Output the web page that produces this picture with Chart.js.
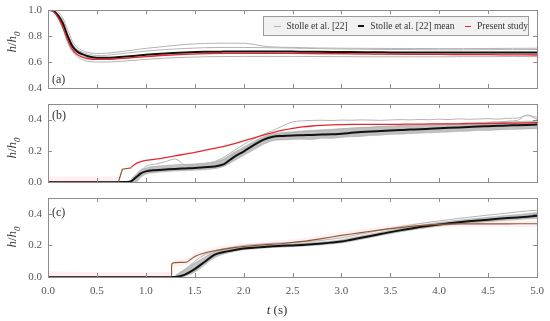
<!DOCTYPE html>
<html>
<head>
<meta charset="utf-8">
<script src="https://cdn.jsdelivr.net/npm/chart.js@4"></script>
<style>
  body { margin: 0; background: #fff; }
  #wrap { position: relative; width: 550px; height: 321px; font-family: "Liberation Serif", serif; }
  .box { position: absolute; left: 0; width: 550px; }
  .ytitle { position: absolute; left: 13px; transform: translate(-50%, -50%) rotate(-90deg); font-size: 13px; color: #333; white-space: nowrap; }
  .ytitle sub { font-size: 9px; }
  .tag { position: absolute; left: 52px; font-size: 12px; color: #333; transform: translateY(-50%); }
  #xtitle { position: absolute; left: 277px; top: 310px; transform: translate(-50%, -50%); font-size: 13px; color: #333; white-space: nowrap; }
  #legend { position: absolute; left: 263px; top: 16px; width: 264px; height: 18px; border: 1px solid #9a9a9a; background: #f1f1f1;
            font-size: 9.5px; color: #333; display: flex; align-items: center; white-space: nowrap; }
  #legend span.l { display: inline-block; width: 9px; margin: 0 6px 0 10px; }
</style>
</head>
<body>
<div id="wrap">
  <div class="box" style="top:0px;height:96px"><canvas id="chartA"></canvas></div>
  <div class="box" style="top:96px;height:96px"><canvas id="chartB"></canvas></div>
  <div class="box" style="top:192px;height:129px"><canvas id="chartC"></canvas></div>
  <div class="ytitle" style="top:42px"><i>h</i>/<i>h</i><sub><i>0</i></sub></div>
  <div class="ytitle" style="top:148px"><i>h</i>/<i>h</i><sub><i>0</i></sub></div>
  <div class="ytitle" style="top:237px"><i>h</i>/<i>h</i><sub><i>0</i></sub></div>
  <div class="tag" style="top:79px">(a)</div>
  <div class="tag" style="top:115px">(b)</div>
  <div class="tag" style="top:212px">(c)</div>
  <div id="xtitle"><i>t</i> (s)</div>
  <div id="legend">
    <span class="l" style="border-top:1px solid #b0b0b0"></span>Stolle et al. [22]
    <span class="l" style="border-top:2.5px solid #111"></span>Stolle et al. [22] mean
    <span class="l" style="border-top:1.5px solid #e8262d"></span>Present study
  </div>
</div>
<script>
// ---- data ----
const xTicks = [0, 0.5, 1.0, 1.5, 2.0, 2.5, 3.0, 3.5, 4.0, 4.5, 5.0];
const yTicksA = [0.4, 0.6, 0.8, 1.0];
const yTicksBC = [0.0, 0.2, 0.4];

// panel (a)
const tA = [0, 0.05, 0.1, 0.15, 0.2, 0.25, 0.3, 0.35, 0.4, 0.5, 0.6, 0.7, 0.8, 0.9, 1.0, 1.2, 1.4, 1.6, 1.8, 2.0, 2.25, 2.5, 2.75, 3.0, 3.25, 3.5, 3.75, 4.0, 4.25, 4.5, 4.75, 5.0];
const meanA = [1.0, 0.995, 0.96, 0.9, 0.8, 0.72, 0.68, 0.66, 0.646, 0.633, 0.632, 0.636, 0.642, 0.648, 0.655, 0.666, 0.673, 0.678, 0.68, 0.681, 0.681, 0.68, 0.679, 0.677, 0.675, 0.674, 0.673, 0.673, 0.674, 0.674, 0.674, 0.674];
const presentA = [1.0, 0.99, 0.945, 0.87, 0.77, 0.695, 0.655, 0.637, 0.627, 0.62, 0.62, 0.624, 0.63, 0.636, 0.642, 0.652, 0.659, 0.664, 0.666, 0.667, 0.667, 0.666, 0.665, 0.664, 0.662, 0.66, 0.659, 0.658, 0.657, 0.656, 0.655, 0.654];
const trialsA = [
  [1.0, 1.0, 0.985, 0.94, 0.85, 0.76, 0.71, 0.688, 0.675, 0.665, 0.668, 0.675, 0.685, 0.695, 0.705, 0.72, 0.735, 0.742, 0.745, 0.744, 0.718, 0.712, 0.708, 0.706, 0.705, 0.704, 0.704, 0.703, 0.703, 0.704, 0.705, 0.706],
  [1.0, 0.99, 0.94, 0.86, 0.75, 0.68, 0.64, 0.618, 0.606, 0.6, 0.6, 0.603, 0.608, 0.614, 0.62, 0.63, 0.636, 0.64, 0.642, 0.643, 0.643, 0.643, 0.642, 0.641, 0.64, 0.64, 0.64, 0.64, 0.641, 0.641, 0.642, 0.642],
  [1.0, 0.998, 0.97, 0.92, 0.82, 0.74, 0.695, 0.675, 0.662, 0.65, 0.652, 0.66, 0.668, 0.676, 0.684, 0.696, 0.704, 0.71, 0.712, 0.712, 0.71, 0.707, 0.703, 0.7, 0.698, 0.696, 0.695, 0.694, 0.694, 0.695, 0.695, 0.696],
  [1.0, 0.995, 0.955, 0.89, 0.79, 0.71, 0.67, 0.648, 0.636, 0.625, 0.622, 0.625, 0.63, 0.636, 0.642, 0.652, 0.66, 0.664, 0.666, 0.667, 0.667, 0.665, 0.663, 0.661, 0.66, 0.66, 0.659, 0.659, 0.66, 0.66, 0.661, 0.661]
];

// panel (b)
const tB = [0, 0.7, 0.75, 0.8, 0.85, 0.9, 0.95, 1.0, 1.1, 1.2, 1.3, 1.4, 1.5, 1.6, 1.7, 1.8, 1.9, 2.0, 2.1, 2.2, 2.3, 2.4, 2.5, 2.6, 2.7, 2.8, 2.9, 3.0, 3.1, 3.2, 3.3, 3.4, 3.5, 3.6, 3.7, 3.8, 3.9, 4.0, 4.1, 4.2, 4.3, 4.4, 4.5, 4.6, 4.7, 4.8, 4.9, 5.0];
const meanB = [0, 0, 0, 0, 0.005, 0.03, 0.055, 0.068, 0.076, 0.08, 0.084, 0.087, 0.09, 0.095, 0.1, 0.115, 0.16, 0.195, 0.235, 0.27, 0.29, 0.295, 0.298, 0.3, 0.302, 0.304, 0.306, 0.31, 0.315, 0.32, 0.324, 0.327, 0.33, 0.333, 0.336, 0.338, 0.341, 0.344, 0.347, 0.35, 0.353, 0.356, 0.358, 0.36, 0.362, 0.364, 0.366, 0.368];
const presentB = [null, null, null, null, 0.095, 0.118, 0.13, 0.138, 0.146, 0.156, 0.167, 0.179, 0.19, 0.203, 0.216, 0.228, 0.245, 0.263, 0.282, 0.3, 0.317, 0.332, 0.344, 0.353, 0.359, 0.363, 0.366, 0.368, 0.369, 0.369, 0.37, 0.37, 0.37, 0.37, 0.371, 0.371, 0.372, 0.372, 0.373, 0.373, 0.374, 0.374, 0.375, 0.376, 0.377, 0.378, 0.379, 0.38];
const lowB = [null, null, null, null, 0, 0, 0.03, 0.05, 0.06, 0.065, 0.07, 0.072, 0.075, 0.078, 0.085, 0.1, 0.135, 0.17, 0.205, 0.24, 0.265, 0.27, 0.272, 0.274, 0.272, 0.28, 0.279, 0.285, 0.29, 0.292, 0.298, 0.3, 0.305, 0.306, 0.31, 0.312, 0.315, 0.318, 0.32, 0.324, 0.326, 0.33, 0.33, 0.334, 0.336, 0.338, 0.34, 0.342];
const highB = [null, null, null, null, 0.02, 0.05, 0.08, 0.09, 0.1, 0.1, 0.105, 0.108, 0.11, 0.115, 0.125, 0.15, 0.19, 0.225, 0.26, 0.29, 0.31, 0.318, 0.322, 0.328, 0.332, 0.335, 0.338, 0.342, 0.345, 0.35, 0.352, 0.356, 0.358, 0.36, 0.362, 0.364, 0.366, 0.369, 0.372, 0.375, 0.378, 0.38, 0.382, 0.385, 0.386, 0.388, 0.39, 0.392];
const trialsB = [
  [null, null, null, null, null, 0.02, 0.07, 0.1, 0.115, 0.13, 0.148, 0.112, 0.112, 0.118, 0.13, 0.16, 0.2, 0.24, 0.275, 0.305, 0.33, 0.36, 0.385, 0.392, 0.395, 0.396, 0.394, 0.397, 0.396, 0.398, 0.397, 0.395, 0.398, 0.4, 0.398, 0.401, 0.399, 0.403, 0.4, 0.405, 0.402, 0.404, 0.406, 0.403, 0.408, 0.41, 0.425, 0.415],
  [null, null, null, null, null, 0.01, 0.05, 0.085, 0.1, 0.105, 0.11, 0.112, 0.115, 0.12, 0.128, 0.145, 0.18, 0.215, 0.25, 0.28, 0.3, 0.31, 0.318, 0.322, 0.326, 0.33, 0.336, 0.34, 0.345, 0.348, 0.35, 0.354, 0.357, 0.36, 0.363, 0.366, 0.368, 0.37, 0.373, 0.376, 0.378, 0.38, 0.383, 0.385, 0.39, 0.395, 0.43, 0.4]
];
const tOnsetB = [0, 0.72, 0.76, 0.85];
const onsetB = [0, 0, 0.082, 0.09];
const tShadeB = [0, 0.72];
const shadeB = [0.035, 0.035];

// panel (c)
const tC = [0, 1.2, 1.25, 1.3, 1.35, 1.4, 1.5, 1.6, 1.7, 1.8, 1.9, 2.0, 2.1, 2.2, 2.3, 2.4, 2.5, 2.6, 2.7, 2.8, 2.9, 3.0, 3.1, 3.2, 3.3, 3.4, 3.5, 3.6, 3.7, 3.8, 3.9, 4.0, 4.1, 4.2, 4.3, 4.4, 4.5, 4.6, 4.7, 4.8, 4.9, 5.0];
const meanC = [0, 0, 0, 0, 0.005, 0.015, 0.05, 0.095, 0.14, 0.158, 0.17, 0.18, 0.185, 0.19, 0.195, 0.197, 0.2, 0.203, 0.207, 0.212, 0.218, 0.224, 0.236, 0.248, 0.26, 0.272, 0.284, 0.295, 0.305, 0.316, 0.325, 0.333, 0.34, 0.347, 0.353, 0.358, 0.363, 0.368, 0.373, 0.377, 0.382, 0.387];
const lowC = [null, null, null, 0, 0, 0.005, 0.03, 0.075, 0.12, 0.145, 0.16, 0.172, 0.177, 0.182, 0.187, 0.189, 0.192, 0.195, 0.199, 0.203, 0.209, 0.215, 0.226, 0.238, 0.25, 0.262, 0.274, 0.285, 0.295, 0.305, 0.314, 0.322, 0.329, 0.335, 0.341, 0.345, 0.35, 0.355, 0.359, 0.363, 0.367, 0.371];
const highC = [null, null, null, 0.01, 0.03, 0.05, 0.09, 0.125, 0.16, 0.172, 0.182, 0.19, 0.195, 0.2, 0.205, 0.207, 0.21, 0.213, 0.217, 0.222, 0.228, 0.236, 0.248, 0.26, 0.272, 0.284, 0.296, 0.307, 0.317, 0.328, 0.337, 0.345, 0.353, 0.36, 0.367, 0.373, 0.379, 0.385, 0.391, 0.396, 0.402, 0.408];
const trialC = [null, null, null, 0, 0.02, 0.045, 0.1, 0.14, 0.165, 0.18, 0.19, 0.2, 0.205, 0.21, 0.214, 0.216, 0.218, 0.221, 0.226, 0.232, 0.24, 0.248, 0.26, 0.272, 0.284, 0.296, 0.308, 0.318, 0.328, 0.338, 0.347, 0.355, 0.363, 0.371, 0.378, 0.385, 0.392, 0.398, 0.405, 0.412, 0.418, 0.422];
const tPresentC = [0, 1.25, 1.27, 1.42, 1.5, 1.6, 1.7, 1.8, 1.9, 2.0, 2.2, 2.4, 2.6, 2.8, 3.0, 3.2, 3.4, 3.6, 3.8, 4.0, 4.2, 4.4, 4.6, 4.8, 5.0];
const presentC = [0, 0, 0.085, 0.095, 0.13, 0.152, 0.166, 0.177, 0.186, 0.193, 0.203, 0.212, 0.225, 0.243, 0.263, 0.281, 0.298, 0.313, 0.325, 0.333, 0.336, 0.336, 0.336, 0.337, 0.337];
const shadeLowC = [0, 0, 0.06, 0.075, 0.11, 0.132, 0.146, 0.157, 0.166, 0.173, 0.183, 0.192, 0.205, 0.223, 0.243, 0.261, 0.278, 0.293, 0.305, 0.313, 0.316, 0.316, 0.316, 0.317, 0.317];
const shadeHighC = [0.035, 0.035, 0.1, 0.115, 0.15, 0.172, 0.186, 0.197, 0.206, 0.213, 0.223, 0.232, 0.245, 0.263, 0.283, 0.301, 0.318, 0.333, 0.345, 0.353, 0.356, 0.356, 0.356, 0.357, 0.357];

// ---- helpers ----
const RED = "#e8262d", BLACK = "#111111", TRIAL = "#b4b4b4", CLOUD = "rgba(150,150,150,0.6)";
const BROWN = "#8d5a2e", PINK = "rgba(255,190,215,0.25)";

const pts = (ts, ys) => ts.map((x, i) => ({ x: x, y: ys[i] })).filter(p => p.y !== null);

function line(ts, ys, color, width, order, extra) {
  return Object.assign({
    data: pts(ts, ys), borderColor: color, borderWidth: width, pointRadius: 0,
    fill: false, order: order, cubicInterpolationMode: "monotone"
  }, extra || {});
}

// frame with inward ticks on all four sides
const framePlugin = {
  id: "frame",
  afterDatasetsDraw(chart, args, opts) {
    const { ctx, chartArea: a, scales } = chart;
    ctx.save();
    ctx.strokeStyle = "#8c8c8c";
    ctx.lineWidth = 1;
    ctx.beginPath();
    xTicks.forEach(v => {
      const px = Math.round(scales.x.getPixelForValue(v)) + 0.5;
      ctx.moveTo(px, a.top); ctx.lineTo(px, a.top + 4);
      ctx.moveTo(px, a.bottom); ctx.lineTo(px, a.bottom - 4);
    });
    opts.yTicks.forEach(v => {
      const py = Math.round(scales.y.getPixelForValue(v)) + 0.5;
      ctx.moveTo(a.left, py); ctx.lineTo(a.left + 4, py);
      ctx.moveTo(a.right, py); ctx.lineTo(a.right - 4, py);
    });
    ctx.stroke();
    ctx.strokeRect(Math.round(a.left) + 0.5, Math.round(a.top) + 0.5, Math.round(a.width), Math.round(a.height));
    ctx.restore();
  }
};

function makePanel(id, yMin, yMax, yTicks, datasets, showX, pad) {
  return new Chart(document.getElementById(id), {
    type: "line",
    data: { datasets: datasets },
    plugins: [framePlugin],
    options: {
      responsive: true,
      maintainAspectRatio: false,
      animation: false,
      layout: { padding: pad },
      plugins: { legend: { display: false }, tooltip: { enabled: false }, frame: { yTicks: yTicks } },
      scales: {
        x: {
          type: "linear", min: 0, max: 5, display: showX,
          grid: { display: false, drawTicks: false }, border: { display: false },
          afterBuildTicks: s => { s.ticks = xTicks.map(v => ({ value: v })); },
          afterFit: s => { if (showX) s.height = 44; s.paddingLeft = 0; s.paddingRight = 0; },
          ticks: { color: "#555", padding: 8, maxRotation: 0, font: { family: "Liberation Serif", size: 11 },
                   callback: v => v.toFixed(1) }
        },
        y: {
          min: yMin, max: yMax,
          grid: { display: false, drawTicks: false }, border: { display: false },
          afterBuildTicks: s => { s.ticks = yTicks.map(v => ({ value: v })); },
          afterFit: s => { s.width = 48; s.paddingTop = 0; s.paddingBottom = 0; },
          ticks: { color: "#555", padding: 6, font: { family: "Liberation Serif", size: 11 },
                   callback: v => v.toFixed(1) }
        }
      }
    }
  });
}

// ---- panel (a) ----
const dsA = [
  line(tA, presentA, RED, 1.3, 0),
  line(tA, meanA, BLACK, 2, 1)
];
trialsA.forEach(tr => dsA.push(line(tA, tr, TRIAL, 1, 5)));
makePanel("chartA", 0.4, 1.0, yTicksA, dsA, false, { top: 10, bottom: 8, right: 13, left: 0 });

// ---- panel (b) ----
const dsB = [
  line(tB, presentB, RED, 1.3, 0),
  line(tOnsetB, onsetB, BROWN, 1.2, 1, { cubicInterpolationMode: "default", tension: 0 }),
  line(tB, meanB, BLACK, 2, 2),
  line(tB, lowB, CLOUD, 0.6, 6),
  line(tB, highB, CLOUD, 0.6, 6, { fill: 3, backgroundColor: CLOUD }),
  line(tShadeB, shadeB, "rgba(0,0,0,0)", 0, 9, { fill: "origin", backgroundColor: PINK, tension: 0 })
];
trialsB.forEach(tr => dsB.push(line(tB, tr, TRIAL, 1, 5)));
makePanel("chartB", 0, 0.5, yTicksBC, dsB, false, { top: 8, bottom: 10, right: 13, left: 0 });

// ---- panel (c) ----
const dsC = [
  line(tPresentC, presentC, BROWN, 1.2, 0, { cubicInterpolationMode: "default", tension: 0.25 }),
  line(tC, meanC, BLACK, 2, 1),
  line(tC, lowC, CLOUD, 0.6, 6),
  line(tC, highC, CLOUD, 0.6, 6, { fill: 2, backgroundColor: CLOUD }),
  line(tC, trialC, TRIAL, 1, 5),
  line(tPresentC, shadeLowC, "rgba(0,0,0,0)", 0, 9, { cubicInterpolationMode: "default", tension: 0.25 }),
  line(tPresentC, shadeHighC, "rgba(0,0,0,0)", 0, 9, { fill: 5, backgroundColor: PINK, cubicInterpolationMode: "default", tension: 0.25 })
];
makePanel("chartC", 0, 0.5, yTicksBC, dsC, true, { top: 6, bottom: 0, right: 13, left: 0 });
</script>
</body>
</html>
